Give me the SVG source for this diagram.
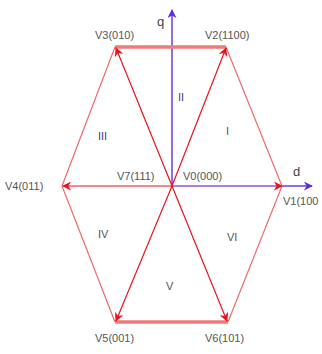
<svg xmlns="http://www.w3.org/2000/svg" width="322" height="354" viewBox="0 0 322 354">
<defs>
<marker id="ar" viewBox="0 0 10 10" refX="9" refY="5" markerWidth="9" markerHeight="9" markerUnits="userSpaceOnUse" orient="auto"><path d="M0,0 L10,5 L0,10 L3,5 z" fill="#e8141e"/></marker>
<marker id="ap" viewBox="0 0 10 10" refX="9" refY="5" markerWidth="9" markerHeight="9" markerUnits="userSpaceOnUse" orient="auto"><path d="M0,0 L10,5 L0,10 L3,5 z" fill="#5a2ee0"/></marker>
</defs>
<style>
text{font-family:"Liberation Sans",Arial,sans-serif;font-size:11px;fill:#555}
.rn{fill:#4a3a8a}
.edge{stroke:#f06a6a;stroke-width:1.2;fill:none}
.thick{stroke:#f07a7a;stroke-width:3.5;fill:none}
.vec{stroke:#e8141e;stroke-width:1.2;marker-end:url(#ar)}
.ax{stroke:#6a3ee0;stroke-width:1.5;marker-end:url(#ap)}
</style>
<rect width="322" height="354" fill="#fff"/>
<g id="connectors">
<line class="ax" x1="172" y1="186" x2="312" y2="186"/>
<line class="ax" x1="172" y1="186" x2="172" y2="10"/>
<line class="edge" x1="282" y1="186" x2="226" y2="47"/>
<line class="thick" x1="226" y1="47" x2="115" y2="47"/>
<line class="edge" x1="115" y1="47" x2="62" y2="186"/>
<line class="edge" x1="62" y1="186" x2="115" y2="322"/>
<line class="thick" x1="115" y1="322" x2="228" y2="322"/>
<line class="edge" x1="228" y1="322" x2="282" y2="186"/>
<line class="vec" x1="172" y1="186" x2="282" y2="186" style="stroke:#c090e8"/>
<line class="vec" x1="172" y1="186" x2="226" y2="48"/>
<line class="vec" x1="172" y1="186" x2="116" y2="48"/>
<line class="vec" x1="172" y1="186" x2="63" y2="186"/>
<line class="vec" x1="172" y1="186" x2="116" y2="321"/>
<line class="vec" x1="172" y1="186" x2="227" y2="321"/>
</g>
<g id="q"><text x="157" y="26" style="font-size:13px;fill:#444">q</text></g>
<g id="d"><text x="293" y="176" style="font-size:13px;fill:#444">d</text></g>
<g id="V3"><text x="95" y="39">V3(010)</text></g>
<g id="V2"><text x="205" y="39">V2(1100)</text></g>
<g id="V4"><text x="5" y="190">V4(011)</text></g>
<g id="V1"><text x="283" y="205">V1(100</text></g>
<g id="V7"><text x="117" y="180">V7(111)</text></g>
<g id="V0"><text x="183" y="180">V0(000)</text></g>
<g id="V5"><text x="95" y="342">V5(001)</text></g>
<g id="V6"><text x="205" y="342">V6(101)</text></g>
<g id="sectors">
<text class="rn" x="178" y="101">II</text>
<text x="226" y="135">I</text>
<text class="rn" x="98" y="140">III</text>
<text x="98" y="238">IV</text>
<text x="227" y="241">VI</text>
<text x="166" y="290">V</text>
</g>
</svg>
